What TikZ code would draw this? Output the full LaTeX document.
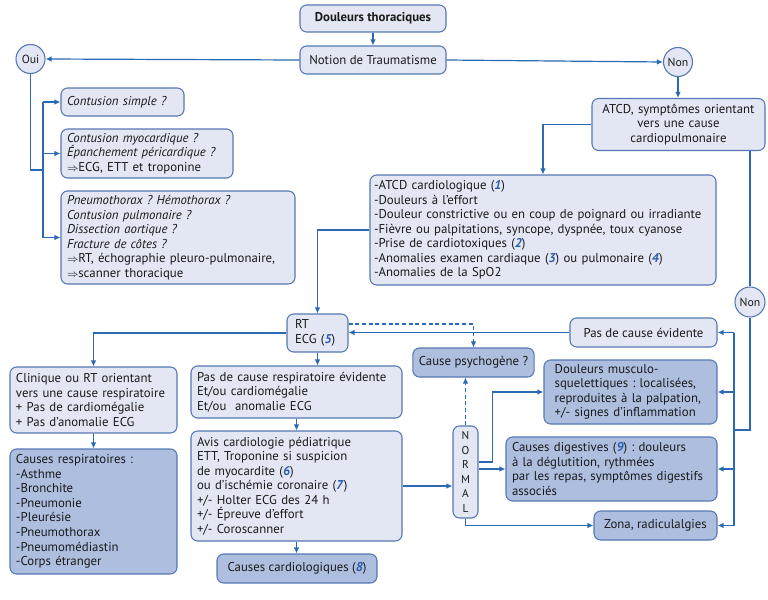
\documentclass[tikz,border=0pt]{standalone}
\usepackage{fontspec}
\setmainfont{PT Sans}
\usetikzlibrary{arrows.meta,calc}
\definecolor{lightc}{HTML}{E3E7F4}
\definecolor{darkc}{HTML}{AEBEDF}
\definecolor{bordc}{HTML}{5677B3}
\definecolor{linec}{HTML}{2A69B3}
\definecolor{numc}{HTML}{2A5CAE}
\definecolor{txtc}{HTML}{1A1A1A}
\newcommand{\bnum}[1]{\textcolor{numc}{\textbf{\textit{#1}}}}
\newcommand{\impl}{{\footnotesize$\Rightarrow$}}
\frenchspacing
\begin{document}
\begin{tikzpicture}[x=0.75pt,y=-0.75pt,
  basefont/.style={font=\fontsize{9.6}{10.9}\selectfont},
  basefont,
  box/.style={draw=bordc, fill=lightc, rounded corners=5pt, line width=0.8pt,
    inner xsep=4.5pt, inner ysep=2pt, text=txtc, basefont},
  dbox/.style={box, fill=darkc},
  circ/.style={circle, draw=bordc, fill=lightc, line width=0.8pt, inner sep=0pt,
    minimum size=21.75pt, text=txtc, font=\fontsize{8.8}{10}\selectfont},
  arr/.style={linec, line width=0.9pt, -{Latex[length=4.5pt,width=4.2pt]}},
  dsh/.style={dash pattern=on 3pt off 2pt},
  ln/.style={linec, line width=0.9pt}]
\fill[white] (0,0) rectangle (768,600);
\useasboundingbox (0,0) rectangle (768,600);

% top
\node[box, minimum width=109.5pt, minimum height=20.25pt,
  font=\fontsize{9.6}{10.9}\selectfont\bfseries] (douleurs) at (373,18.5) {Douleurs thoraciques};
\node[box, minimum width=109.5pt, minimum height=21pt] (notion) at (373,60) {Notion de Traumatisme};
\node[circ] (oui) at (30.5,59) {Oui};
\node[circ] (non) at (678,62) {Non};
\node[box, minimum width=129.75pt, minimum height=39pt, inner xsep=3pt, text width=123.75pt, align=center] (atcd) at (678.5,124.5)
  {ATCD, symptômes orientant\\vers une cause\\cardiopulmonaire};
\node[box, minimum width=259.5pt, minimum height=82.5pt, inner xsep=3pt, text width=253.5pt, align=left] (crit) at (543,230)
  {-ATCD cardiologique (\bnum{1})\\-Douleurs à l’effort\\-Douleur constrictive ou en coup de poignard ou irradiante\\-Fièvre ou palpitations, syncope, dyspnée, toux cyanose\\-Prise de cardiotoxiques (\bnum{2})\\-Anomalies examen cardiaque (\bnum{3}) ou pulmonaire (\bnum{4})\\-Anomalies de la SpO2};
\node[circ, minimum size=22.5pt] (non2) at (750,302) {Non};

% trauma
\node[box, minimum width=92.25pt, minimum height=21pt, text width=83.25pt, align=left] (cs) at (122.5,102)
  {\textit{Contusion simple ?}};
\node[box, minimum width=129pt, minimum height=36.75pt, text width=120pt, align=left] (cm) at (147,153.5)
  {\textit{Contusion myocardique ?}\\\textit{Épanchement péricardique ?}\\\impl ECG, ETT et troponine};
\node[box, minimum width=175.5pt, minimum height=69.75pt, text width=166.5pt, align=left] (pt) at (178,237.5)
  {\textit{Pneumothorax ? Hémothorax ?}\\\textit{Contusion pulmonaire ?}\\\textit{Dissection aortique ?}\\\textit{Fracture de côtes ?}\\\impl RT, échographie pleuro-pulmonaire,\\\impl scanner thoracique};

% middle
\node[box, minimum width=45.75pt, minimum height=28.5pt, inner xsep=6pt, text width=33.75pt, align=left] (rt) at (317.5,333)
  {RT\\ECG (\bnum{5})};
\node[dbox, minimum width=90.75pt, minimum height=21.75pt] (psy) at (473.5,362.5)
  {Cause psychogène ?};
\node[box, minimum width=110.25pt, minimum height=21.75pt] (pas) at (643.5,332.5)
  {Pas de cause évidente};
\node[dbox, minimum width=129.75pt, minimum height=48pt, inner xsep=8pt, text width=113.75pt, align=left] (musc) at (630.5,392)
  {Douleurs musculo-\\squelettiques : localisées,\\reproduites à la palpation,\\+/- signes d’inflammation};
\node[dbox, minimum width=158.25pt, minimum height=48pt, text width=149.25pt, align=left] (dig) at (611.5,469)
  {Causes digestives (\bnum{9}) : douleurs\\à la déglutition, rythmées\\par les repas, symptômes digestifs\\associés};
\node[dbox, minimum width=92.25pt, minimum height=21.75pt] (zona) at (655.5,525.5)
  {Zona, radiculalgies};
\node[box, minimum width=18.75pt, minimum height=69pt, inner xsep=2pt, text width=14.75pt, align=center,
  font=\fontsize{8.5}{10.9}\selectfont] (normal) at (465.5,472)
  {N\\O\\R\\M\\A\\L};

% bottom left
\node[box, minimum width=125.25pt, minimum height=49.5pt, text width=116.25pt, align=left] (clin) at (93.5,400)
  {Clinique ou RT orientant\\vers une cause respiratoire\\+ Pas de cardiomégalie\\+ Pas d’anomalie ECG};
\node[dbox, minimum width=125.25pt, minimum height=93.75pt, text width=116.25pt, align=left] (resp) at (93.5,511.5)
  {Causes respiratoires :\\-Asthme\\-Bronchite\\-Pneumonie\\-Pleurésie\\-Pneumothorax\\-Pneumomédiastin\\-Corps étranger};
\node[box, minimum width=158.25pt, minimum height=39pt, text width=149.25pt, align=left] (pasresp) at (296.5,392)
  {Pas de cause respiratoire évidente\\Et/ou cardiomégalie\\Et/ou \ anomalie ECG};
\node[box, minimum width=158.25pt, minimum height=82.5pt, text width=149.25pt, align=left] (avis) at (296.5,486)
  {Avis cardiologie pédiatrique\\ETT, Troponine si suspicion\\de myocardite (\bnum{6})\\ou d’ischémie coronaire (\bnum{7})\\+/- Holter ECG des 24 h\\+/- Épreuve d’effort\\+/- Coroscanner};
\node[dbox, minimum width=120pt, minimum height=21.75pt] (card) at (297,568.5)
  {Causes cardiologiques (\bnum{8})};

% coordinates
\coordinate (lb) at (43,170);
\coordinate (rj) at (734,430);

% connectors top
\draw[arr] (douleurs) -- (notion);
\draw[arr] (notion.west) -- (oui.east);
\draw[arr] (notion.east) -- (non.west);
\draw[arr] (non.south) -- (non.south |- atcd.north);
\draw[arr] (atcd.west) -| (crit.north);
\draw[ln] (non2 |- atcd.south) -- (non2.north);
\draw[arr] (crit.west) -| (rt.north);

% trauma branch
\draw[ln] (oui.south) |- (lb);
\draw[ln] (lb |- cs.west) -- (lb |- pt.west);
\draw[arr] (lb |- cs.west) -- (cs.west);
\draw[arr] (lb |- cm.west) -- (cm.west);
\draw[arr] (lb |- pt.west) -- (pt.west);

% right bus
\draw[ln] (non2.south) |- (rj);
\draw[ln] (rj |- pas.east) -- (rj |- zona.east);
\draw[arr] (rj |- pas.east) -- (pas.east);
\draw[arr] (rj |- musc.east) -- (musc.east);
\draw[arr] (rj |- dig.east) -- (dig.east);
\draw[arr] (rj |- zona.east) -- (zona.east);

% middle
\draw[arr] (pas.west) -- (pas.west -| rt.east);
\draw[arr, dsh] ($(rt.east)+(0,-9)$) -| (psy.north);
\draw[arr, dsh] (normal.north) -- (normal.north |- psy.south);
\draw[arr] ($(normal.east)+(0,-10)$) -- ++(14,0) |- (musc.west);
\draw[arr] (normal.east |- dig.west) -- (dig.west);
\draw[arr] (normal.south) |- (zona.west);
\draw[arr] (avis.east) -- (avis.east -| normal.west);

% left bottom
\draw[arr] (rt.west) -| (clin.north);
\draw[arr] (clin.south) -- (resp.north);
\draw[arr] (rt.south) -- (rt.south |- pasresp.north);
\draw[arr] (pasresp.south) -- (avis.north);
\draw[arr] (avis.south) -- (avis.south |- card.north);
\end{tikzpicture}
\end{document}
